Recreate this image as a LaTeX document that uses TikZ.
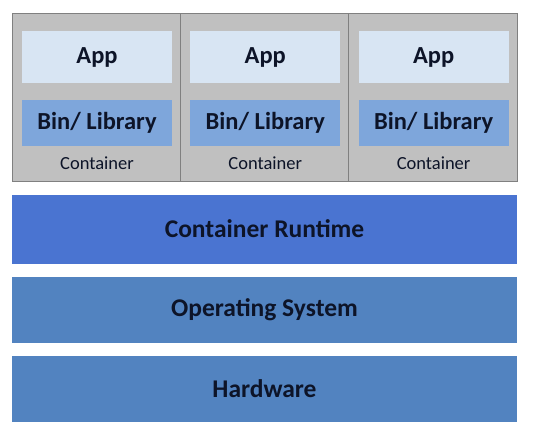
\documentclass[tikz,border=0pt]{standalone}
\usepackage{fontspec}
\setmainfont{Carlito}
\usepackage{tikz}
\usetikzlibrary{positioning}
\definecolor{contgray}{HTML}{C0C0C0}
\definecolor{contline}{HTML}{808080}
\definecolor{applight}{HTML}{D8E5F3}
\definecolor{binblue}{HTML}{7EA6DB}
\definecolor{runblue}{HTML}{4A74D1}
\definecolor{osblue}{HTML}{5283C0}
\definecolor{inkdark}{HTML}{0D1428}
\begin{document}
\begin{tikzpicture}[x=1pt,y=-1pt,
  contbox/.style={draw=contline,line width=0.8pt,fill=contgray,minimum width=168.3pt,minimum height=168pt,inner sep=0pt},
  appbox/.style={fill=applight,minimum width=150pt,minimum height=52pt,inner sep=0pt,text=inkdark,font=\fontsize{24.5}{28}\selectfont\bfseries},
  binbox/.style={fill=binblue,minimum width=150pt,minimum height=46pt,inner sep=0pt,text=inkdark,font=\fontsize{24.5}{28}\selectfont\bfseries},
  contlabel/.style={text=inkdark,font=\fontsize{18.5}{21}\selectfont,inner sep=0pt},
  layer/.style={minimum width=505pt,minimum height=66pt,inner sep=0pt,text=inkdark,font=\fontsize{25.5}{30}\selectfont\bfseries}]
  \useasboundingbox (0,0) rectangle (546,442);
  % three containers on top
  \foreach \i in {1,2,3} {
    \node[contbox] (cont\i) at ({96.2+168.3*(\i-1)},97) {};
    \node[appbox] (app\i) at ({97+168.3*(\i-1)},57) {App};
    \node[binbox] (bin\i) at ({97+168.3*(\i-1)},123) {Bin/ Library};
    \node[contlabel] (lbl\i) at ({97+168.3*(\i-1)},163) {Container};
  }
  % layers below
  \node[layer,fill=runblue,minimum height=69pt] (runtime) at (264.5,229) {Container Runtime};
  \node[layer,fill=osblue] (os) at (264.5,309.5) {Operating System};
  \node[layer,fill=osblue] (hw) at (264.5,388.7) {Hardware};
\end{tikzpicture}
\end{document}
